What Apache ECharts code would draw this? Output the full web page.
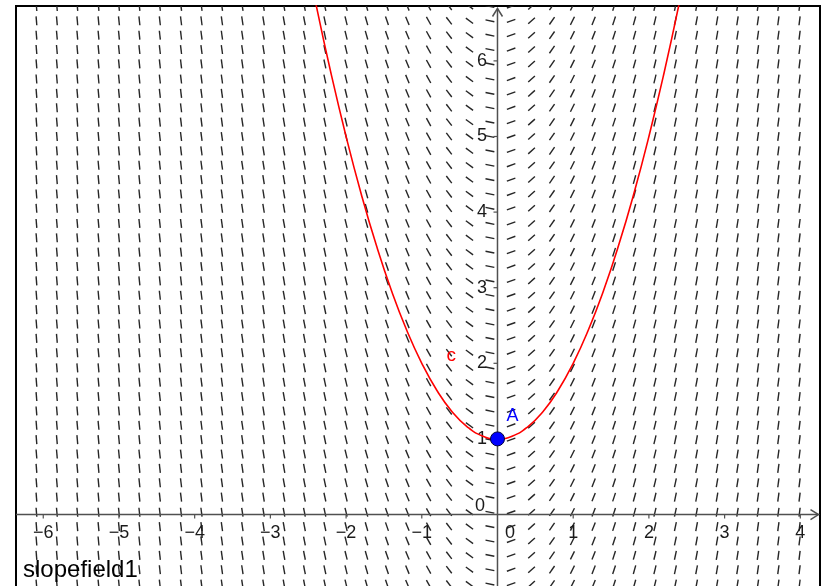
<!DOCTYPE html>
<html><head><meta charset="utf-8">
<script src="https://cdn.jsdelivr.net/npm/echarts@6/dist/echarts.min.js"></script>
<style>html,body{margin:0;padding:0;background:#fff}#c{width:823px;height:586px}</style>
</head><body><div id="c"></div>
<script>
// ---- data ----
const xTicks = [-6,-5,-4,-3,-2,-1,0,1,2,3,4];
const yTicks = [0,1,2,3,4,5,6];

// slope field grid columns (x) and the slope drawn in each column
const fieldX = [-6.09,-5.82,-5.55,-5.27,-5.00,-4.73,-4.46,-4.18,-3.91,-3.64,-3.37,-3.09,-2.82,-2.55,-2.28,-2.00,-1.73,-1.46,-1.19,-0.91,-0.64,-0.37,-0.10,0.18,0.45,0.72,0.99,1.27,1.54,1.81,2.08,2.35,2.63,2.90,3.17,3.44,3.71,3.99];
const fieldSlope = [-12.2,-11.6,-11.1,-10.5,-10.0,-9.5,-8.9,-8.4,-7.8,-7.3,-6.7,-6.2,-5.6,-5.1,-4.6,-4.0,-3.5,-2.9,-2.4,-1.8,-1.3,-0.74,-0.2,0.36,0.9,1.44,1.98,2.54,3.08,3.62,4.16,4.7,5.26,5.8,6.34,6.88,7.42,7.98];
// slope field grid rows (y)
const fieldY = [6.72,6.53,6.34,6.15,5.96,5.76,5.57,5.38,5.19,5.00,4.81,4.62,4.43,4.24,4.05,3.85,3.66,3.47,3.28,3.09,2.90,2.71,2.52,2.33,2.14,1.94,1.75,1.56,1.37,1.18,0.99,0.80,0.61,0.42,0.23,0.03,-0.16,-0.35,-0.54,-0.73,-0.92];

// solution curve c
const curveX = [-2.4,-2.2,-2.0,-1.8,-1.6,-1.4,-1.2,-1.0,-0.8,-0.6,-0.4,-0.2,0,0.2,0.4,0.6,0.8,1.0,1.2,1.4,1.6,1.8,2.0,2.2,2.4];
const curveY = [6.76,5.84,5.00,4.24,3.56,2.96,2.44,2.00,1.64,1.36,1.16,1.04,1.00,1.04,1.16,1.36,1.64,2.00,2.44,2.96,3.56,4.24,5.00,5.84,6.76];

// point A
const pointA = [0, 1];

// ---- chart ----
const FONT = "'Liberation Sans', Arial, sans-serif";
const AXIS_COLOR = '#505050';
const LABEL_COLOR = '#1a1a1a';
const minus = v => (v < 0 ? '\u2212' + Math.abs(v) : String(v));

const fieldData = [];
fieldX.forEach((x, i) => fieldY.forEach(y => fieldData.push([x, y, fieldSlope[i]])));

const chart = echarts.init(document.getElementById('c'), null, {renderer: 'canvas'});
chart.setOption({
  animation: false,
  backgroundColor: '#fff',
  grid: {left: 16, right: 3, top: 6, bottom: -2, show: true, borderColor: '#000', borderWidth: 2,
         backgroundColor: 'transparent', containLabel: false, outerBoundsMode: 'none'},
  xAxis: {
    type: 'value', min: -6.36, max: 4.26,
    axisLine: {show: false}, axisTick: {show: false}, axisLabel: {show: false}, splitLine: {show: false}
  },
  yAxis: {
    type: 'value', min: -0.972, max: 6.726,
    axisLine: {show: false}, axisTick: {show: false}, axisLabel: {show: false}, splitLine: {show: false}
  },
  series: [
    {
      type: 'custom', name: 'slopefield1', data: fieldData, clip: true, z: 1,
      progressive: 0,
      renderItem: (params, api) => {
        const p = api.coord([api.value(0), api.value(1)]);
        const s = api.size([1, 1]);
        let dx = s[0], dy = -api.value(2) * s[1];
        const n = Math.hypot(dx, dy), L = 4.5;
        dx = dx / n * L; dy = dy / n * L;
        return {type: 'line', shape: {x1: p[0] - dx, y1: p[1] - dy, x2: p[0] + dx, y2: p[1] + dy},
                style: {stroke: '#262626', lineWidth: 1.4}};
      }
    },
    {
      // axes: lines, ticks, arrows and tick labels placed through the axis scales
      type: 'custom', data: [[0, 0]], clip: false, z: 3, silent: true,
      renderItem: (params, api) => {
        const o = api.coord([0, 0]);
        const cs = params.coordSys;
        const xt = cs.x + cs.width - 1.5, yt = cs.y + 2.5;
        const stroke = {stroke: AXIS_COLOR, lineWidth: 1.5, fill: null};
        const txt = (t, x, y, align) => ({type: 'text', x, y,
          style: {text: t, fill: LABEL_COLOR, font: '18px ' + FONT, align, verticalAlign: 'middle'}});
        const ch = [
          {type: 'line', shape: {x1: cs.x, y1: o[1], x2: xt, y2: o[1]}, style: stroke},
          {type: 'line', shape: {x1: o[0], y1: cs.y + cs.height, x2: o[0], y2: yt}, style: stroke},
          {type: 'polyline', shape: {points: [[xt - 8, o[1] - 5], [xt, o[1]], [xt - 8, o[1] + 5]]}, style: stroke},
          {type: 'polyline', shape: {points: [[o[0] - 5, yt + 8], [o[0], yt], [o[0] + 5, yt + 8]]}, style: stroke}
        ];
        xTicks.forEach(v => {
          const p = api.coord([v, 0]);
          if (v === 0) { ch.push(txt('0', p[0] + 12.5, o[1] + 19, 'center')); return; }
          ch.push({type: 'line', shape: {x1: p[0], y1: o[1], x2: p[0], y2: o[1] + 4}, style: {stroke: AXIS_COLOR, lineWidth: 1.2}});
          ch.push(txt(minus(v), p[0], o[1] + 19, 'center'));
        });
        yTicks.forEach(v => {
          const p = api.coord([0, v]);
          if (v === 0) { ch.push(txt('0', o[0] - 12.5, p[1] - 8.5, 'right')); return; }
          ch.push({type: 'line', shape: {x1: o[0] - 4, y1: p[1], x2: o[0], y2: p[1]}, style: {stroke: AXIS_COLOR, lineWidth: 1.2}});
          ch.push(txt(minus(v), o[0] - 10.5, p[1], 'right'));
        });
        return {type: 'group', children: ch};
      }
    },
    {
      type: 'line', name: 'c', data: curveX.map((x, i) => [x, curveY[i]]), smooth: true,
      showSymbol: false, clip: true, z: 4,
      lineStyle: {color: '#ff0000', width: 1.6}
    },
    {
      type: 'custom', data: [[-0.61, 2.10]], clip: false, z: 5,
      renderItem: (params, api) => {
        const p = api.coord([api.value(0), api.value(1)]);
        return {type: 'text', x: p[0], y: p[1], style: {text: 'c', fill: '#ff0000', font: '19px ' + FONT, align: 'center', verticalAlign: 'middle'}};
      }
    },
    {
      type: 'scatter', name: 'A', data: [pointA], symbolSize: 14, z: 6,
      itemStyle: {color: '#0000ff', borderColor: '#00003a', borderWidth: 1, opacity: 1},
      label: {show: true, formatter: 'A', position: 'inside', offset: [15, -23], color: '#0000ff', fontSize: 18, fontFamily: FONT}
    }
  ],
  graphic: [
    {type: 'text', left: 23, top: 558, z: 10, style: {text: 'slopefield1', fill: '#000', font: '24px ' + FONT}}
  ]
});
</script>
</body></html>
